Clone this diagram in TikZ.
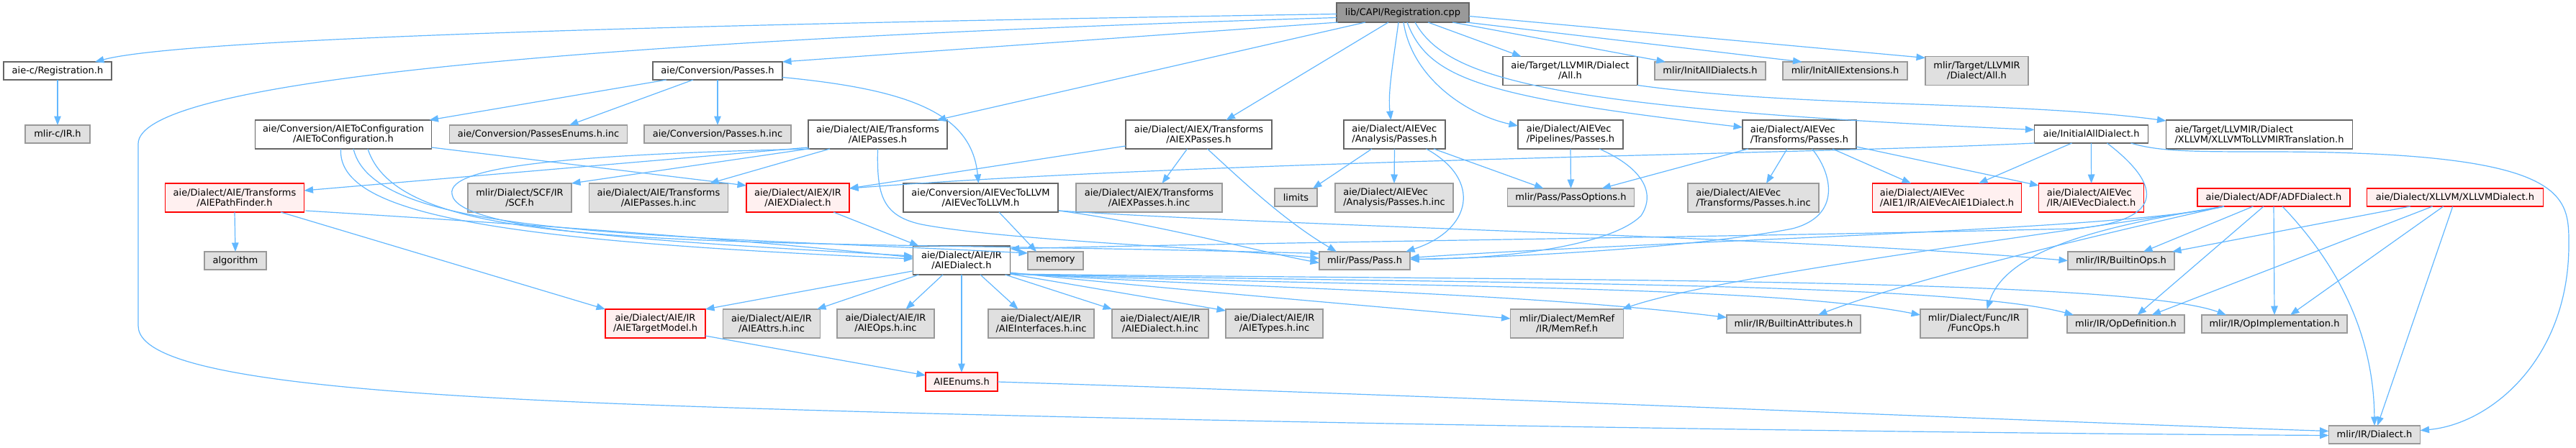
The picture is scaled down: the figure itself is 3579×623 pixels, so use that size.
\documentclass[tikz,border=0pt]{standalone}
\usepackage{fontspec}
\setmainfont{DejaVu Sans}
\usetikzlibrary{arrows.meta,calc}
\definecolor{edgeblue}{HTML}{63B8FF}
\definecolor{grA}{HTML}{666666}
\definecolor{grB}{HTML}{999999}
\definecolor{grC}{HTML}{E0E0E0}
\definecolor{redfill}{HTML}{FFF0F0}
\tikzset{
  basen/.style={rectangle, inner sep=0pt, outer sep=0pt, font=\fontsize{13}{14.3}\selectfont, align=center, line width=1.2pt, text=black},
  docn/.style={basen, draw=grA, fill=white},
  extn/.style={basen, draw=grB, fill=grC},
  redn/.style={basen, draw=red, fill=redfill},
  rootn/.style={basen, draw=grA, fill=grB},
  dep/.style={draw=edgeblue, line width=1.2pt, -{Triangle[length=12.5pt,width=9.5pt]}},
}
\begin{document}
\begin{tikzpicture}[x=1pt,y=-1pt]
\fill[white] (0,0) rectangle (3579,623);
\useasboundingbox (0,0) rectangle (3579,623);
% ---- nodes
\node[rootn, minimum width=184pt, minimum height=27pt] (cpp) at (1949,17.5) {lib/CAPI/Registration.cpp};
\node[docn, minimum width=150pt, minimum height=25pt] (regh) at (80,98.5) {aie-c/Registration.h};
\node[extn, minimum width=90pt, minimum height=25pt] (mlirc) at (80,186.5) {mlir-c/IR.h};
\node[docn, minimum width=180pt, minimum height=25pt] (convp) at (997,98.5) {aie/Conversion/Passes.h};
\node[docn, minimum width=187pt, minimum height=40pt] (tgtall) at (2181.5,98.5) {aie/Target/LLVMIR/Dialect\\/All.h};
\node[extn, minimum width=154pt, minimum height=25pt] (initdia) at (2376,98.5) {mlir/InitAllDialects.h};
\node[extn, minimum width=173pt, minimum height=25pt] (initext) at (2563.5,98.5) {mlir/InitAllExtensions.h};
\node[extn, minimum width=143pt, minimum height=40pt] (mlirtgt) at (2746.5,98.5) {mlir/Target/LLVMIR\\/Dialect/All.h};
\node[docn, minimum width=245pt, minimum height=40pt] (toconf) at (477,187) {aie/Conversion/AIEToConfiguration\\/AIEToConfiguration.h};
\node[extn, minimum width=247pt, minimum height=25pt] (penum) at (748,186.5) {aie/Conversion/PassesEnums.h.inc};
\node[extn, minimum width=204pt, minimum height=25pt] (pinc) at (997,186.5) {aie/Conversion/Passes.h.inc};
\node[docn, minimum width=193pt, minimum height=40pt] (aiep) at (1219.5,187) {aie/Dialect/AIE/Transforms\\/AIEPasses.h};
\node[docn, minimum width=203pt, minimum height=40pt] (aiexp) at (1665.5,187) {aie/Dialect/AIEX/Transforms\\/AIEXPasses.h};
\node[docn, align=left, minimum width=141pt, minimum height=40pt] (anap) at (1937.5,187) {aie/Dialect/AIEVec\\/Analysis/Passes.h};
\node[docn, align=left, minimum width=146pt, minimum height=40pt] (pipep) at (2182,187) {aie/Dialect/AIEVec\\/Pipelines/Passes.h};
\node[docn, align=left, minimum width=158pt, minimum height=40pt] (vtrp) at (2500,187) {aie/Dialect/AIEVec\\/Transforms/Passes.h};
\node[docn, minimum width=158pt, minimum height=25pt] (initall) at (2905.5,186.5) {aie/InitialAllDialect.h};
\node[docn, align=left, minimum width=259pt, minimum height=40pt] (xtrans) at (3139,187) {aie/Target/LLVMIR/Dialect\\/XLLVM/XLLVMToLLVMIRTranslation.h};
\node[redn, minimum width=193pt, minimum height=40pt] (pathf) at (326,275) {aie/Dialect/AIE/Transforms\\/AIEPathFinder.h};
\node[extn, minimum width=144pt, minimum height=40pt] (scf) at (722,275) {mlir/Dialect/SCF/IR\\/SCF.h};
\node[extn, minimum width=193pt, minimum height=40pt] (aiepinc) at (915,275) {aie/Dialect/AIE/Transforms\\/AIEPasses.h.inc};
\node[redn, minimum width=143pt, minimum height=40pt] (aiexd) at (1108.5,275) {aie/Dialect/AIEX/IR\\/AIEXDialect.h};
\node[docn, minimum width=215pt, minimum height=40pt] (v2llvm) at (1362.5,275) {aie/Conversion/AIEVecToLLVM\\/AIEVecToLLVM.h};
\node[extn, minimum width=203pt, minimum height=40pt] (aiexpinc) at (1596.5,275) {aie/Dialect/AIEX/Transforms\\/AIEXPasses.h.inc};
\node[extn, minimum width=59pt, minimum height=25pt] (limits) at (1800.5,274.5) {limits};
\node[extn, align=left, minimum width=164pt, minimum height=40pt] (anainc) at (1937,275) {aie/Dialect/AIEVec\\/Analysis/Passes.h.inc};
\node[extn, minimum width=176pt, minimum height=25pt] (popt) at (2182.5,274.5) {mlir/Pass/PassOptions.h};
\node[extn, align=left, minimum width=182pt, minimum height=40pt] (vtrinc) at (2436,275) {aie/Dialect/AIEVec\\/Transforms/Passes.h.inc};
\node[redn, align=left, minimum width=207pt, minimum height=40pt] (aie1) at (2705,275) {aie/Dialect/AIEVec\\/AIE1/IR/AIEVecAIE1Dialect.h};
\node[redn, align=left, minimum width=146pt, minimum height=40pt] (vecd) at (2905.6,275) {aie/Dialect/AIEVec\\/IR/AIEVecDialect.h};
\node[redn, minimum width=212pt, minimum height=25pt] (adf) at (3159,274.5) {aie/Dialect/ADF/ADFDialect.h};
\node[redn, minimum width=244.5pt, minimum height=25pt] (xllvm) at (3411,274.5) {aie/Dialect/XLLVM/XLLVMDialect.h};
\node[extn, minimum width=86pt, minimum height=25pt] (algorithm) at (327,362.5) {algorithm};
\node[docn, minimum width=135pt, minimum height=40pt] (aied) at (1336,362) {aie/Dialect/AIE/IR\\/AIEDialect.h};
\node[extn, minimum width=77pt, minimum height=25pt] (memory) at (1466.5,362.5) {memory};
\node[extn, minimum width=126pt, minimum height=25pt] (pass) at (1896,362.5) {mlir/Pass/Pass.h};
\node[extn, minimum width=148pt, minimum height=25pt] (bops) at (2947,362.5) {mlir/IR/BuiltinOps.h};
\node[redn, minimum width=139pt, minimum height=40pt] (tmodel) at (910.5,450) {aie/Dialect/AIE/IR\\/AIETargetModel.h};
\node[extn, minimum width=135pt, minimum height=40pt] (attrs) at (1072,450) {aie/Dialect/AIE/IR\\/AIEAttrs.h.inc};
\node[extn, minimum width=135pt, minimum height=40pt] (ops) at (1230.5,450) {aie/Dialect/AIE/IR\\/AIEOps.h.inc};
\node[extn, minimum width=147pt, minimum height=40pt] (ifc) at (1446.5,450) {aie/Dialect/AIE/IR\\/AIEInterfaces.h.inc};
\node[extn, minimum width=134pt, minimum height=40pt] (dinc) at (1612,450) {aie/Dialect/AIE/IR\\/AIEDialect.h.inc};
\node[extn, minimum width=135pt, minimum height=40pt] (types) at (1770.5,450) {aie/Dialect/AIE/IR\\/AIETypes.h.inc};
\node[extn, minimum width=157pt, minimum height=40pt] (memref) at (2177,450) {mlir/Dialect/MemRef\\/IR/MemRef.h};
\node[extn, minimum width=186pt, minimum height=25pt] (battr) at (2492,450.5) {mlir/IR/BuiltinAttributes.h};
\node[extn, minimum width=149pt, minimum height=40pt] (funcops) at (2742.5,450) {mlir/Dialect/Func/IR\\/FuncOps.h};
\node[extn, minimum width=163pt, minimum height=25pt] (opdef) at (2953.5,450.5) {mlir/IR/OpDefinition.h};
\node[extn, minimum width=202pt, minimum height=25pt] (opimpl) at (3160,450.5) {mlir/IR/OpImplementation.h};
\node[redn, minimum width=100pt, minimum height=26pt] (enums) at (1336,531) {AIEEnums.h};
\node[extn, minimum width=127pt, minimum height=25pt] (dialect) at (3299,604.5) {mlir/IR/Dialect.h};
% ---- edges from Registration.cpp
\draw[dep] ($(cpp.west)+(0,2)$) .. controls (1000,33) and (260,52) .. ($(regh.north)+(52,0)$);
\draw[dep] ($(cpp.west)+(0,7)$) .. controls (700,60) and (192,120) .. (192,200) -- (192,453) .. controls (192,515) and (420,545) .. (900,563) .. controls (1500,585) and (2600,602) .. ($(dialect.west)+(0,1)$);
\draw[dep] ($(cpp.south west)+(2,0)$) -- (convp.north east);
\draw[dep] ($(cpp.south west)+(40,0)$) -- ($(aiep.north)+(82,0)$);
\draw[dep] ($(cpp.south west)+(72,0)$) -- ($(aiexp.north)+(38,0)$);
\draw[dep] ($(cpp.south west)+(86,0)$) .. controls (1935,90) and (1928,130) .. ($(anap.north)+(-5,0)$);
\draw[dep] ($(cpp.south west)+(93,0)$) .. controls (1962,110) and (2040,160) .. ($(pipep.west)+(0,-12)$);
\draw[dep] ($(cpp.south west)+(98,0)$) .. controls (1985,110) and (2060,135) .. ($(vtrp.west)+(0,-10)$);
\draw[dep] ($(cpp.south west)+(109,0)$) .. controls (2010,110) and (2150,150) .. ($(initall.west)+(0,-6)$);
\draw[dep] ($(cpp.south west)+(127,0)$) -- ($(tgtall.north)+(-68,0)$);
\draw[dep] ($(cpp.south west)+(161,0)$) -- ($(initdia.north)+(-62,0)$);
\draw[dep] ($(cpp.south east)+(-4,0)$) -- ($(initext.north)+(-60,0)$);
\draw[dep] ($(cpp.east)+(0,5)$) -- ($(mlirtgt.north west)+(0,2)$);
% ---- second level
\draw[dep] (regh.south) -- (mlirc.north);
\draw[dep] (tgtall.south east) .. controls (2500,150) and (2800,140) .. ($(xtrans.north west)+(0,1)$);
\draw[dep] ($(convp.south west)+(19,0)$) -- ($(toconf.north east)+(-3,0)$);
\draw[dep] ($(convp.south west)+(56,0)$) -- ($(penum.north)+(43,0)$);
\draw[dep] (convp.south) -- (pinc.north);
\draw[dep] ($(convp.east)+(0,9)$) .. controls (1270,125) and (1350,160) .. ($(v2llvm.north)+(-3,0)$);
% AIEToConfiguration
\draw[dep] ($(toconf.south east)+(0,-2)$) -- ($(aiexd.west)+(0,-17)$);
\draw[dep] ($(toconf.south)+(-3.5,0)$) .. controls (468,300) and (700,335) .. ($(aied.west)+(0,-2)$);
\draw[dep] ($(toconf.south)+(14,0)$) .. controls (520,330) and (900,325) .. ($(memory.north west)+(0,2)$);
\draw[dep] ($(toconf.south)+(34,0)$) .. controls (560,360) and (1000,330) .. ($(pass.west)+(0,-10)$);
% AIEPasses
\draw[dep] ($(aiep.west)+(0,18)$) -- ($(pathf.east)+(0,-10)$);
\draw[dep] (aiep.south west) -- (scf.north east);
\draw[dep] ($(aiep.south west)+(2,0)$) .. controls (800,215) and (620,230) .. (628,270) .. controls (635,320) and (900,335) .. ($(aied.west)+(0,-6)$);
\draw[dep] ($(aiep.south west)+(30,0)$) -- ($(aiepinc.north)+(71,0)$);
\draw[dep] (aiep.south) .. controls (1218,270) and (1225,300) .. (1280,312) .. controls (1400,335) and (1700,345) .. ($(pass.west)+(0,-3)$);
% AIEXPasses
\draw[dep] ($(aiexp.west)+(0,16)$) -- ($(aiexd.east)+(0,-13)$);
\draw[dep] ($(aiexp.south)+(-16,0)$) -- ($(aiexpinc.north)+(18,0)$);
\draw[dep] ($(aiexp.south)+(12,0)$) .. controls (1740,265) and (1790,310) .. ($(pass.north west)+(24,0)$);
% AIEVec analysis
\draw[dep] ($(anap.south west)+(39,0)$) -- ($(limits.north east)+(-6,0)$);
\draw[dep] (anap.south) -- (anainc.north);
\draw[dep] ($(anap.south)+(44,0)$) .. controls (2060,250) and (2045,320) .. ($(pass.north east)+(-6,0)$);
\draw[dep] ($(anap.south east)+(-16,0)$) -- ($(popt.north)+(-38,0)$);
% pipelines
\draw[dep] (pipep.south) -- (popt.north);
\draw[dep] ($(pipep.south)+(40,0)$) .. controls (2285,235) and (2300,270) .. (2280,300) .. controls (2240,340) and (2100,360) .. ($(pass.east)+(0,-2)$);
% AIEVec transforms
\draw[dep] ($(vtrp.south west)+(8,0)$) -- ($(popt.north)+(43,0)$);
\draw[dep] ($(vtrp.south)+(-17,0)$) -- ($(vtrinc.north)+(18,0)$);
\draw[dep] ($(vtrp.south)+(17.5,0)$) .. controls (2545,240) and (2560,300) .. (2490,318) .. controls (2350,345) and (2100,358) .. ($(pass.east)+(0,-2)$);
\draw[dep] ($(vtrp.south east)+(-33,0)$) -- ($(aie1.north)+(-50,0)$);
\draw[dep] ($(vtrp.east)+(0,17)$) -- ($(vecd.west)+(0,-17)$);
% InitialAllDialect
\draw[dep] (initall.south west) .. controls (2500,215) and (1700,222) .. ($(aiexd.east)+(0,-13)$);
\draw[dep] ($(initall.south west)+(52,0)$) -- ($(aie1.north)+(44,0)$);
\draw[dep] (initall.south) -- (vecd.north);
\draw[dep] ($(initall.south)+(22,0)$) .. controls (3020,270) and (2990,310) .. (2880,318) .. controls (2400,330) and (1800,336) .. ($(aied.east)+(0,-16)$);
\draw[dep] ($(initall.south east)+(-24,0)$) .. controls (3000,211) and (3050,211) .. (3150,211) .. controls (3569,211) and (3569,270) .. (3569,340) .. controls (3569,500) and (3460,590) .. ($(dialect.east)+(0,-6)$);
% ADF
\draw[dep] ($(adf.south west)+(37,0)$) .. controls (2950,320) and (2300,335) .. ($(pass.east)+(0,-4)$);
\draw[dep] ($(adf.south west)+(37,0)$) .. controls (2900,320) and (2400,380) .. ($(memref.north east)+(-2,0)$);
\draw[dep] ($(adf.south west)+(37,0)$) .. controls (2900,330) and (2650,390) .. ($(battr.north)+(34,0)$);
\draw[dep] ($(adf.south west)+(37,0)$) .. controls (2950,310) and (2790,340) .. ($(funcops.north)+(18,0)$);
\draw[dep] ($(adf.south)+(-28.5,0)$) -- ($(bops.north)+(31,0)$);
\draw[dep] ($(adf.south)+(-14,0)$) -- ($(opdef.north)+(16,0)$);
\draw[dep] (adf.south) -- (opimpl.north);
\draw[dep] ($(adf.south)+(12,0)$) .. controls (3260,380) and (3298,480) .. (dialect.north);
% XLLVM
\draw[dep] ($(xllvm.south west)+(60,0)$) -- ($(bops.north east)+(-3,0)$);
\draw[dep] ($(xllvm.south west)+(91,0)$) -- ($(opdef.north)+(36,0)$);
\draw[dep] ($(xllvm.south west)+(106,0)$) -- ($(opimpl.north)+(22,0)$);
\draw[dep] ($(xllvm.south west)+(119,0)$) -- ($(dialect.north)+(4,0)$);
% AIEDialect
\draw[dep] ($(aied.south west)+(-1,-5)$) -- (tmodel.north east);
\draw[dep] ($(aied.south west)+(8,0)$) -- ($(attrs.north)+(63,0)$);
\draw[dep] ($(aied.south)+(-26,0)$) -- ($(ops.north)+(28,0)$);
\draw[dep] (aied.south) -- (enums.north);
\draw[dep] ($(aied.south)+(26,0)$) -- ($(ifc.north)+(-32,0)$);
\draw[dep] ($(aied.south east)+(-7,0)$) -- (dinc.north west);
\draw[dep] ($(aied.south east)+(0,-1)$) -- ($(types.north west)+(0,2)$);
\draw[dep] ($(aied.east)+(0,17)$) .. controls (1600,400) and (1900,425) .. ($(memref.west)+(0,-7)$);
\draw[dep] ($(aied.east)+(0,18)$) .. controls (1700,400) and (2100,405) .. ($(battr.west)+(0,-9)$);
\draw[dep] ($(aied.east)+(0,19)$) .. controls (1900,400) and (2450,395) .. ($(funcops.west)+(0,-12)$);
\draw[dep] ($(aied.east)+(0,19)$) .. controls (2000,395) and (2700,390) .. ($(opdef.north west)+(9,0)$);
\draw[dep] ($(aied.east)+(0,19)$) .. controls (2100,390) and (2950,385) .. ($(opimpl.north west)+(34,0)$);
% others
\draw[dep] ($(tmodel.south east)+(0,-3)$) -- ($(enums.west)+(0,-9)$);
\draw[dep] (enums.east) .. controls (2000,550) and (2800,585) .. ($(dialect.west)+(0,-5)$);
\draw[dep] (pathf.south) -- (algorithm.north);
\draw[dep] ($(pathf.south)+(64,0)$) -- (tmodel.north west);
\draw[dep] ($(pathf.south east)+(2,-2)$) .. controls (700,310) and (1000,330) .. ($(aied.west)+(0,-4)$);
\draw[dep] ($(aiexd.south)+(49.5,0)$) -- ($(aied.north west)+(8,0)$);
\draw[dep] ($(v2llvm.south)+(25.5,0)$) -- ($(memory.north west)+(12,0)$);
\draw[dep] ($(v2llvm.south east)+(1,-2)$) .. controls (1600,310) and (1750,350) .. ($(pass.west)+(0,3)$);
\draw[dep] ($(v2llvm.south east)+(1,-2)$) .. controls (1800,315) and (2500,330) .. (bops.west);
\end{tikzpicture}
\end{document}
